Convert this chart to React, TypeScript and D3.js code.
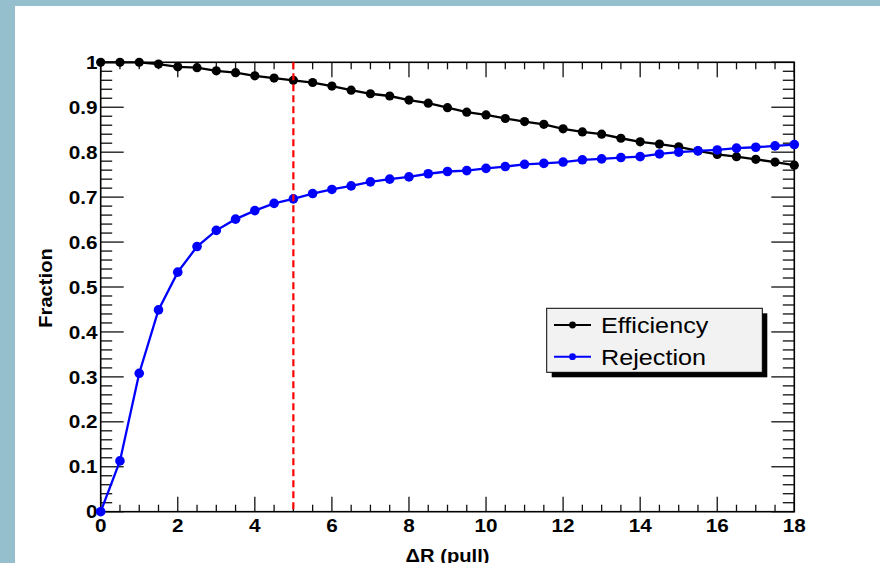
import React from "react";
import * as d3 from "d3";

// ΔR cut scan: efficiency and rejection fractions
const deltaR = [
  0, 0.5, 1, 1.5, 2, 2.5, 3, 3.5, 4, 4.5, 5, 5.5, 6, 6.5, 7, 7.5, 8, 8.5, 9,
  9.5, 10, 10.5, 11, 11.5, 12, 12.5, 13, 13.5, 14, 14.5, 15, 15.5, 16, 16.5, 17,
  17.5, 18,
];
const efficiency = [
  1.0, 1.0, 1.0, 0.996, 0.99, 0.988, 0.981, 0.977, 0.97, 0.965, 0.96, 0.955,
  0.947, 0.938, 0.93, 0.925, 0.916, 0.909, 0.899, 0.889, 0.883, 0.875, 0.868,
  0.862, 0.852, 0.845, 0.84, 0.831, 0.823, 0.818, 0.812, 0.803, 0.795, 0.79,
  0.784, 0.778, 0.771,
];
const rejection = [
  0.0, 0.113, 0.308, 0.449, 0.533, 0.59, 0.626, 0.651, 0.67, 0.686, 0.696,
  0.708, 0.717, 0.725, 0.734, 0.74, 0.745, 0.752, 0.757, 0.759, 0.764, 0.768,
  0.773, 0.775, 0.778, 0.783, 0.785, 0.788, 0.79, 0.796, 0.8, 0.803, 0.805,
  0.809, 0.811, 0.814, 0.817,
];
const xTickLabels = ["0", "2", "4", "6", "8", "10", "12", "14", "16", "18"];
const yTickLabels = ["0", "0.1", "0.2", "0.3", "0.4", "0.5", "0.6", "0.7", "0.8", "0.9", "1"];
const cutValue = 5;
const legendNames = ["Efficiency", "Rejection"];

const W = 880;
const H = 563;
const x0 = 100.7;
const x1 = 794.3;
const yTop = 62.3;
const yBot = 511.7;

const FONT = "'Liberation Sans', Arial, Helvetica, sans-serif";

function Stretched({ x, y, anchor = "start", size, weight = "normal", rotate = 0, children, dy }: any) {
  return (
    <text
      transform={`translate(${x},${y}) rotate(${rotate}) scale(1.12,1)`}
      textAnchor={anchor}
      fontFamily={FONT}
      fontSize={size}
      fontWeight={weight}
      dy={dy}
      fill="#000"
    >
      {children}
    </text>
  );
}

export default function App() {
  const xs = d3.scaleLinear().domain([0, 18]).range([x0, x1]);
  const ys = d3.scaleLinear().domain([0, 1]).range([yBot, yTop]);

  const line = d3
    .line<[number, number]>()
    .x((d) => xs(d[0]))
    .y((d) => ys(d[1]));

  const effPts: [number, number][] = deltaR.map((d, i) => [d, efficiency[i]]);
  const rejPts: [number, number][] = deltaR.map((d, i) => [d, rejection[i]]);

  const xMinor = d3.range(0, 18.001, 0.5);
  const xMajor = xTickLabels.map(Number);
  const yMinor = d3.range(0, 1.0001, 0.02);
  const yMajor = yTickLabels.map(Number);

  const tickStroke = "#111";

  // legend box geometry
  const lg = { x: 546.7, y: 308.3, w: 215.6, h: 64 };
  const rows = [
    { name: legendNames[0], color: "#000", y: 325 },
    { name: legendNames[1], color: "#0000ff", y: 356.7 },
  ];

  return (
    <svg width={W} height={H} style={{ position: "absolute", left: 0, top: 0, display: "block" }}>
      <style>{`body{margin:0}`}</style>
      <rect x={0} y={0} width={W} height={H} fill="#ffffff" />
      <rect x={0} y={0} width={W} height={6} fill="#96bfcd" />
      <rect x={0} y={0} width={15} height={H} fill="#96bfcd" />

      {/* bottom & top axis ticks */}
      {xMinor.map((v) => {
        const major = xMajor.some((m) => Math.abs(m - v) < 1e-6);
        const len = major ? 15 : 7;
        return (
          <g key={"xt" + v}>
            <line x1={xs(v)} x2={xs(v)} y1={yBot} y2={yBot - len} stroke={tickStroke} strokeWidth={1.3} />
            <line x1={xs(v)} x2={xs(v)} y1={yTop} y2={yTop + len} stroke={tickStroke} strokeWidth={1.3} />
          </g>
        );
      })}
      {/* left & right axis ticks */}
      {yMinor.map((v) => {
        const major = yMajor.some((m) => Math.abs(m - v) < 1e-6);
        const len = major ? 23 : 11.5;
        return (
          <g key={"yt" + v}>
            <line x1={x0} x2={x0 + len} y1={ys(v)} y2={ys(v)} stroke={tickStroke} strokeWidth={1.3} />
            <line x1={x1} x2={x1 - len} y1={ys(v)} y2={ys(v)} stroke={tickStroke} strokeWidth={1.3} />
          </g>
        );
      })}

      {/* frame */}
      <rect x={x0} y={yTop} width={x1 - x0} height={yBot - yTop} fill="none" stroke="#000" strokeWidth={1.6} />

      {/* tick labels */}
      {yTickLabels.map((t) => (
        <Stretched key={"yl" + t} x={97.5} y={ys(Number(t))} anchor="end" size={18.5} weight="bold" dy="0.36em">
          {t}
        </Stretched>
      ))}
      {xTickLabels.map((t) => (
        <Stretched key={"xl" + t} x={xs(Number(t))} y={532} anchor="middle" size={18.5} weight="bold">
          {t}
        </Stretched>
      ))}

      {/* axis titles */}
      <Stretched x={52} y={288} anchor="middle" size={18} weight="bold" rotate={-90}>
        Fraction
      </Stretched>
      <Stretched x={447.5} y={562} anchor="middle" size={18} weight="bold">
        ΔR (pull)
      </Stretched>

      {/* series */}
      <path d={line(effPts) || ""} fill="none" stroke="#000" strokeWidth={2.3} />
      {effPts.map((p, i) => (
        <circle key={"e" + i} cx={xs(p[0])} cy={ys(p[1])} r={4.6} fill="#000" />
      ))}
      <path d={line(rejPts) || ""} fill="none" stroke="#0000ff" strokeWidth={2.3} />
      {rejPts.map((p, i) => (
        <circle key={"r" + i} cx={xs(p[0])} cy={ys(p[1])} r={4.8} fill="#0000ff" />
      ))}

      {/* cut line */}
      <line
        x1={xs(cutValue)}
        x2={xs(cutValue)}
        y1={yTop}
        y2={yBot}
        stroke="#ff0000"
        strokeWidth={2.2}
        strokeDasharray="7,4"
      />

      {/* legend */}
      <rect x={lg.x + 5} y={lg.y + 5} width={lg.w} height={lg.h} fill="#000" />
      <rect x={lg.x} y={lg.y} width={lg.w} height={lg.h} fill="#f2f2f2" stroke="#000" strokeWidth={1} />
      {rows.map((r) => (
        <g key={r.name}>
          <line x1={554} x2={591} y1={r.y} y2={r.y} stroke={r.color} strokeWidth={2} />
          <circle cx={572.5} cy={r.y} r={3.4} fill={r.color} />
          <Stretched x={601} y={r.y + 8} size={22.5}>
            {r.name}
          </Stretched>
        </g>
      ))}
    </svg>
  );
}
